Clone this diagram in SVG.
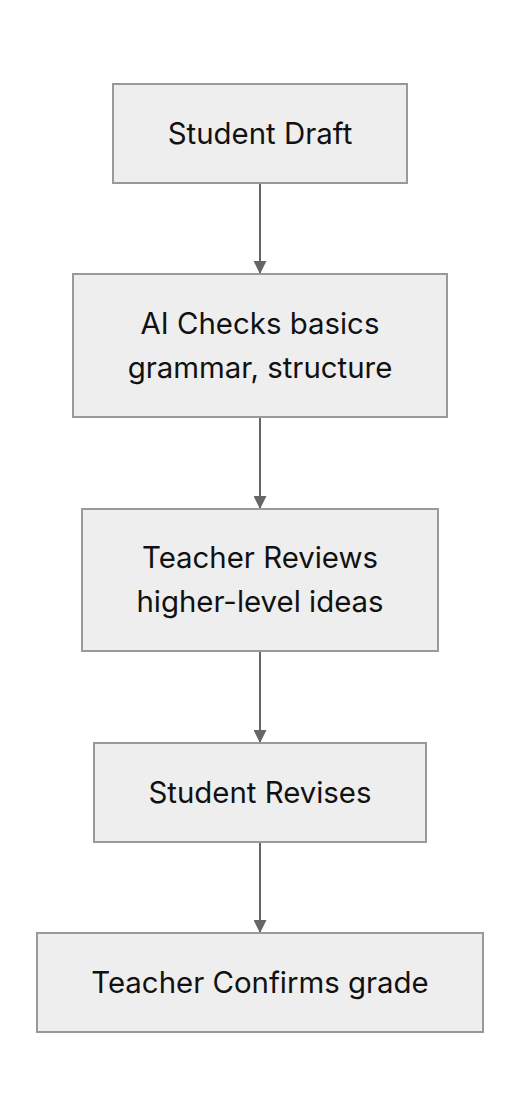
<svg xmlns="http://www.w3.org/2000/svg" width="520" height="1116" viewBox="0 0 520 1116">
<style>
.box{fill:#eeeeee;stroke:#999999;stroke-width:2}
.lbl{font-family:Inter,"Noto Sans","Liberation Sans",sans-serif;font-size:29.4px;fill:#111111;text-anchor:middle}
.edge{stroke:#666666;stroke-width:2;fill:none}
</style>
<defs>
<marker id="arr" markerWidth="15" markerHeight="13" refX="15" refY="7.5" orient="auto" markerUnits="userSpaceOnUse" viewBox="0 0 15 15">
<path d="M0,0 L15,7.5 L0,15 z" fill="#666666"/>
</marker>
</defs>
<rect width="520" height="1116" fill="#ffffff"/>
<g id="connectors">
<line class="edge" x1="260" y1="183" x2="260" y2="274" marker-end="url(#arr)"/>
<line class="edge" x1="260" y1="417" x2="260" y2="509" marker-end="url(#arr)"/>
<line class="edge" x1="260" y1="651" x2="260" y2="743" marker-end="url(#arr)"/>
<line class="edge" x1="260" y1="842" x2="260" y2="933" marker-end="url(#arr)"/>
</g>
<g id="n1"><rect class="box" x="113" y="84" width="294" height="99"/><text class="lbl" x="260" y="143.5">Student Draft</text></g>
<g id="n2"><rect class="box" x="73" y="274" width="374" height="143"/><text class="lbl" x="260" y="333.5">AI Checks basics</text><text class="lbl" x="260" y="377.5">grammar, structure</text></g>
<g id="n3"><rect class="box" x="82" y="509" width="356" height="142"/><text class="lbl" x="260" y="567.5">Teacher Reviews</text><text class="lbl" x="260" y="611.5">higher-level ideas</text></g>
<g id="n4"><rect class="box" x="94" y="743" width="332" height="99"/><text class="lbl" x="260" y="802.5">Student Revises</text></g>
<g id="n5"><rect class="box" x="37" y="933" width="446" height="99"/><text class="lbl" x="260" y="992.5">Teacher Confirms grade</text></g>
</svg>
